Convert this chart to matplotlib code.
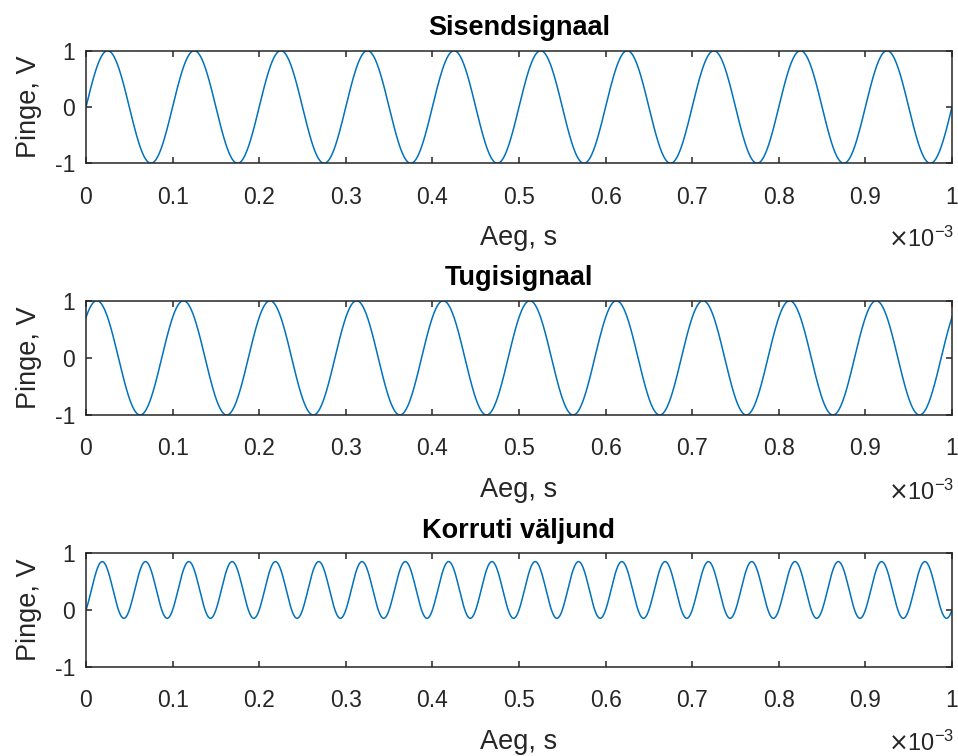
import numpy as np
import matplotlib
matplotlib.use("Agg")
import matplotlib.pyplot as plt
from matplotlib.ticker import FuncFormatter

plt.rcParams['font.family'] = ['Liberation Sans', 'DejaVu Sans']
plt.rcParams['axes.unicode_minus'] = False

# signal parameters
f_signal = 10e3          # Hz, input and reference frequency
amp_signal = 1.0         # V
ref_phase = np.pi / 4    # rad, reference lead
t_end = 1e-3             # s
n_samples = 2001

titles = ['Sisendsignaal', 'Tugisignaal', 'Korruti väljund']
x_ticks = [0, 0.1e-3, 0.2e-3, 0.3e-3, 0.4e-3, 0.5e-3, 0.6e-3, 0.7e-3, 0.8e-3, 0.9e-3, 1e-3]
y_ticks = [-1, 0, 1]
x_label = 'Aeg, s'
y_label = 'Pinge, V'

t = np.linspace(0, t_end, n_samples)
sisend = amp_signal * np.sin(2 * np.pi * f_signal * t)
tugi = amp_signal * np.sin(2 * np.pi * f_signal * t + ref_phase)
korrutis = sisend * tugi
signals = [sisend, tugi, korrutis]

line_col = '#0072BD'
ax_col = '#262626'

fig = plt.figure(figsize=(9.58, 7.56), dpi=100)
W, H = 958, 756
left, right = 86, 952
tops = [50.7, 300.7, 553.3]
bottoms = [163.3, 415, 666.7]

for i in range(3):
    ax = fig.add_axes([left / W, 1 - bottoms[i] / H, (right - left) / W, (bottoms[i] - tops[i]) / H])
    ax.plot(t, signals[i], color=line_col, lw=1.1)
    ax.set_xlim(0, t_end)
    ax.set_ylim(-1, 1)
    ax.set_xticks(x_ticks)
    ax.set_yticks(y_ticks)
    ax.xaxis.set_major_formatter(FuncFormatter(lambda v, p: '%g' % round(v * 1e3, 6)))
    ax.tick_params(direction='in', length=4, width=1.1, colors=ax_col,
                   top=True, right=True, labelsize=16.5)
    ax.tick_params(axis='x', pad=16)
    ax.tick_params(axis='y', pad=8)
    for s in ax.spines.values():
        s.set_color(ax_col)
        s.set_linewidth(1.1)
    ax.set_title(titles[i], fontsize=19.5, fontweight='bold', color='black', pad=11)
    ax.set_xlabel(x_label, fontsize=19.5, color=ax_col, labelpad=12)
    ax.set_ylabel(y_label, fontsize=19.5, color=ax_col, labelpad=9)
    # exponent of the time axis
    ax.text(1.003, -0.74, r'$\times\mathregular{10^{-3}}$', transform=ax.transAxes,
            ha='right', va='baseline', fontsize=17, color=ax_col)

fig.savefig('out.png', dpi=100)
